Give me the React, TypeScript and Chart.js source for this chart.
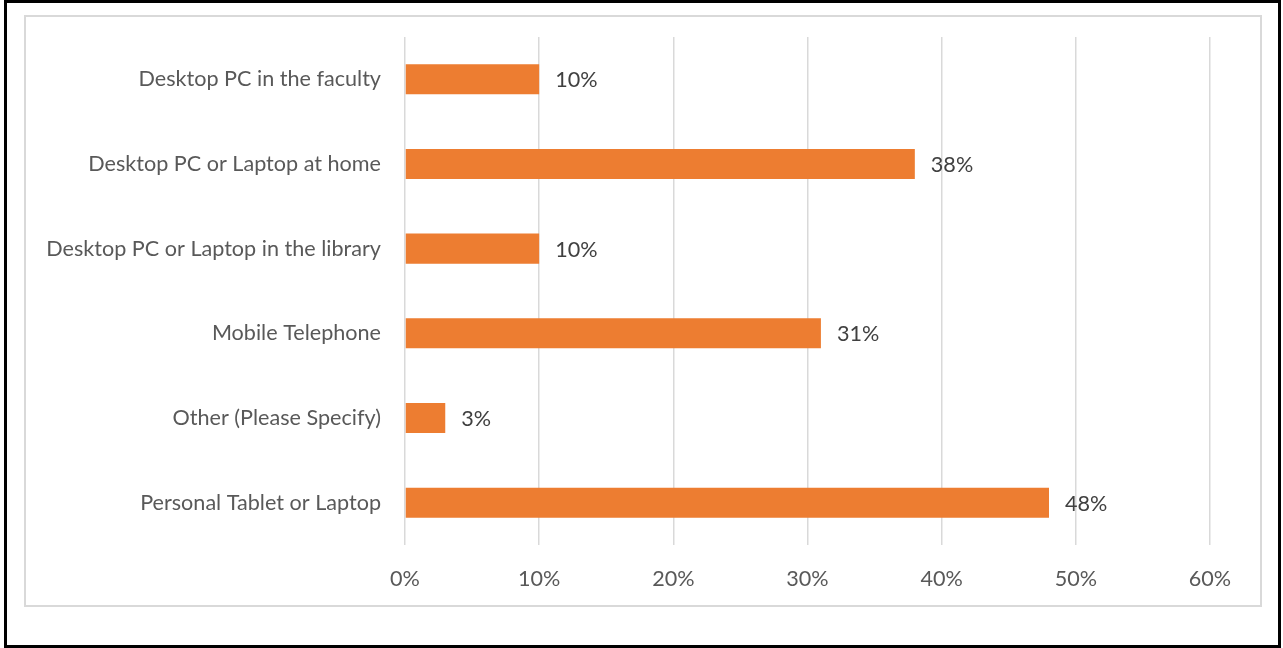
import React, { useEffect, useRef } from "react";
import { Chart, registerables } from "chart.js";

Chart.register(...registerables);

const categories = [
  "Desktop PC in the faculty",
  "Desktop PC or Laptop at home",
  "Desktop PC or Laptop in the library",
  "Mobile Telephone",
  "Other (Please Specify)",
  "Personal Tablet or Laptop",
];
const values = [10, 38, 10, 31, 3, 48];
const xTicks = [0, 10, 20, 30, 40, 50, 60];

const FONT = "Lato";
const SIZE = 21.6;

const dataLabelPlugin = {
  id: "dataLabels",
  afterDatasetsDraw(chart: any) {
    const ctx = chart.ctx;
    const meta = chart.getDatasetMeta(0);
    ctx.save();
    ctx.font = `${SIZE}px ${FONT}`;
    ctx.fillStyle = "#404040";
    ctx.textAlign = "left";
    ctx.textBaseline = "middle";
    meta.data.forEach((bar: any, i: number) => {
      ctx.fillText(`${values[i]}%`, bar.x + 16, bar.y + 1);
    });
    ctx.restore();
  },
};

export default function App() {
  const ref = useRef<HTMLCanvasElement>(null);
  useEffect(() => {
    document.body.style.margin = "0";
    const chart = new Chart(ref.current!, {
      type: "bar",
      data: {
        labels: categories,
        datasets: [
          {
            data: values,
            backgroundColor: "#ED7D31",
            categoryPercentage: 1,
            barPercentage: 0.355,
          },
        ],
      },
      options: {
        indexAxis: "y",
        animation: false,
        responsive: false,
        layout: { padding: { top: 36, right: 73, left: 0, bottom: 0 } },
        plugins: { legend: { display: false }, tooltip: { enabled: false } },
        scales: {
          x: {
            min: 0,
            max: 60,
            afterBuildTicks: (s: any) => {
              s.ticks = xTicks.map((v) => ({ value: v }));
            },
            afterFit: (s: any) => {
              s.height = 103;
            },
            grid: { color: "#d9d9d9", lineWidth: 1.5, drawTicks: false },
            border: { display: false },
            ticks: {
              padding: 21,
              color: "#595959",
              font: { family: FONT, size: SIZE },
              callback: (v: any) => `${v}%`,
            },
          },
          y: {
            afterFit: (s: any) => {
              s.width = 405;
            },
            grid: { display: false, drawTicks: false },
            border: { display: false },
            ticks: {
              padding: 24,
              color: "#595959",
              font: { family: FONT, size: SIZE },
            },
          },
        },
      },
      plugins: [dataLabelPlugin],
    });
    return () => chart.destroy();
  }, []);
  return (
    <div style={{ position: "relative", width: 1283, height: 648, background: "#fff" }}>
      <div
        style={{
          position: "absolute",
          left: 4,
          top: 0,
          width: 1277,
          height: 648,
          border: "3px solid #000",
          boxSizing: "border-box",
        }}
      />
      <div
        style={{
          position: "absolute",
          left: 24,
          top: 15,
          width: 1238,
          height: 592,
          border: "2px solid #d9d9d9",
          boxSizing: "border-box",
        }}
      />
      <canvas
        ref={ref}
        width={1283}
        height={648}
        style={{ position: "absolute", left: 0, top: 0, width: 1283, height: 648 }}
      />
    </div>
  );
}
